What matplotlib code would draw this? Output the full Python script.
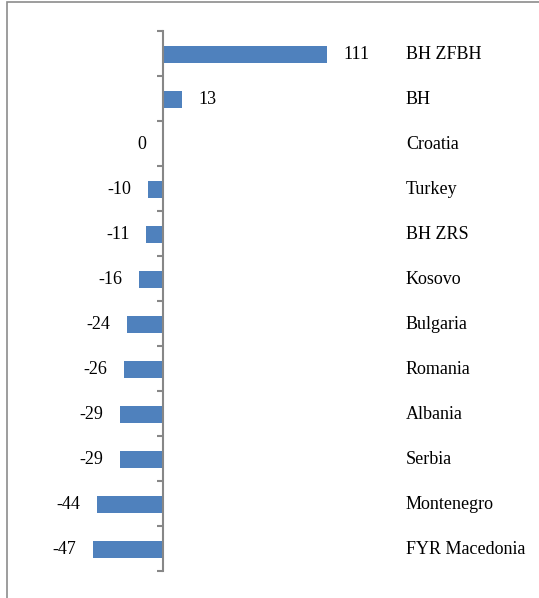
import matplotlib
matplotlib.use('Agg')
import matplotlib.pyplot as plt
import matplotlib.patches as patches
import matplotlib.transforms as transforms
import numpy as np

countries = ['BH ZFBH', 'BH', 'Croatia', 'Turkey', 'BH ZRS', 'Kosovo',
             'Bulgaria', 'Romania', 'Albania', 'Serbia', 'Montenegro',
             'FYR Macedonia']
values = [111, 13, 0, -10, -11, -16, -24, -26, -29, -29, -44, -47]

plt.rcParams['font.family'] = ['Liberation Serif', 'DejaVu Serif']

W, H = 539, 598
fig = plt.figure(figsize=(W / 100, H / 100), dpi=100)

# plot area in pixels: zero line at x=162.5, 1.48 px per unit
zero_px, px_per_unit = 162.5, 1.48
left_px, right_px = 60, 400
top_px, bottom_px = 30.7, 570.7
ax = fig.add_axes([left_px / W, (H - bottom_px) / H,
                   (right_px - left_px) / W, (bottom_px - top_px) / H])
ax.set_xlim((left_px - zero_px) / px_per_unit, (right_px - zero_px) / px_per_unit)
ax.set_ylim(len(countries) - 0.5, -0.5)

y = np.arange(len(countries))
ax.barh(y + 0.03, values, height=0.39, color='#4F81BD', edgecolor='none')

axis_color = '#878787'
for side in ['top', 'right', 'bottom']:
    ax.spines[side].set_visible(False)
ax.spines['left'].set_position(('data', 0))
ax.spines['left'].set_color(axis_color)
ax.spines['left'].set_linewidth(1.5)
ax.set_xticks([])
ax.set_yticks(np.arange(-0.5, len(countries), 1))
ax.set_yticklabels([])
ax.tick_params(axis='y', direction='out', length=4.3, width=1.5, color=axis_color)

# value labels
for i, v in enumerate(values):
    if v > 0:
        ax.annotate(str(v), xy=(v, i + 0.03), xytext=(12, 0), textcoords='offset points',
                    ha='left', va='center', fontsize=13)
    else:
        ax.annotate(str(v), xy=(v, i + 0.03), xytext=(-12, 0), textcoords='offset points',
                    ha='right', va='center', fontsize=13)

# category names in a column on the right
trans = transforms.blended_transform_factory(fig.transFigure, ax.transData)
for i, name in enumerate(countries):
    ax.text(406 / W, i + 0.03, name, transform=trans, ha='left', va='center',
            fontsize=13, clip_on=False)

# chart frame
frame = patches.Rectangle((7 / W, -0.2), 1.2, (H - 2) / H + 0.2,
                          transform=fig.transFigure, fill=False,
                          edgecolor='#8c8c8c', linewidth=1.2, clip_on=False)
fig.add_artist(frame)

fig.savefig('out.png', dpi=100)
